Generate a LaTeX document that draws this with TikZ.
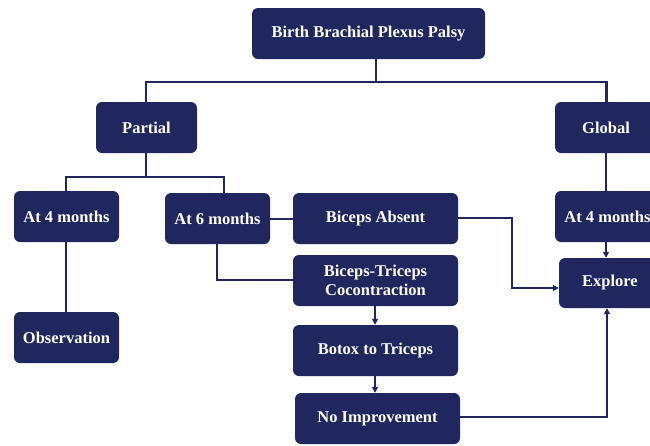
\documentclass[tikz,border=0pt]{standalone}
\usepackage{fontspec}
\setmainfont{Liberation Serif}
\usetikzlibrary{arrows.meta}
\definecolor{navy}{HTML}{1F275E}
\tikzset{
  box/.style={rectangle, rounded corners=6pt, fill=navy, text=white,
    font=\fontsize{16.5}{19}\selectfont\bfseries, align=center, inner sep=0pt,
    minimum height=51pt},
  conn/.style={draw=navy, line width=2.3pt},
  arr/.style={conn, -{Triangle[length=6pt,width=6pt]}}
}
\begin{document}
\begin{tikzpicture}[x=1pt,y=-1pt]
\useasboundingbox (0,0) rectangle (650,445);
\clip (0,0) rectangle (650,445);
\node[box, minimum width=233pt] (top) at (368.5,33.5) {Birth Brachial Plexus Palsy};
\node[box, minimum width=101pt] (partial) at (146.5,127.5) {Partial};
\node[box, minimum width=102pt] (global) at (606,127.5) {Global};
\node[box, minimum width=105pt] (at4L) at (66.5,216.5) {At 4 months};
\node[box, minimum width=105pt] (at6) at (217.5,218.5) {At 6 months};
\node[box, minimum width=165pt] (absent) at (375.5,218.5) {Biceps Absent};
\node[box, minimum width=105pt] (at4R) at (607.5,216.5) {At 4 months};
\node[box, minimum width=165pt] (cocon) at (375.5,280.5) {Biceps-Triceps\\Cocontraction};
\node[box, minimum width=102pt, minimum height=50pt] (explore) at (610,283) {Explore};
\node[box, minimum width=105pt] (obs) at (66.5,337.5) {Observation};
\node[box, minimum width=165pt] (botox) at (375.5,350.5) {Botox to Triceps};
\node[box, minimum width=165pt] (noimp) at (377.5,418.5) {No Improvement};
% top branching
\coordinate (tb) at (376,82);
\draw[conn] (top.south -| tb) -- (tb);
\draw[conn] (partial.north -| 146,0) |- (tb) -| (global.north -| 606.5,0);
% partial branching
\coordinate (pb) at (146,177);
\draw[conn] (partial.south -| pb) -- (pb);
\draw[conn] (at4L.north -| 66,0) |- (pb) -| (at6.north -| 224,0);
\draw[conn] (at4L.south -| 66,0) -- (obs.north -| 66,0);
\draw[conn] (at6.east |- 0,219) -- (absent.west |- 0,219);
\draw[conn] (at6.south -| 217,0) |- (cocon.west |- 0,280);
\draw[arr] (absent.east |- 0,218) -| (512,250) |- (explore.west |- 0,288);
\draw[arr] (cocon.south -| 375,0) -- (botox.north -| 375,0);
\draw[arr] (botox.south -| 375,0) -- (noimp.north -| 375,0);
\draw[arr] (noimp.east |- 0,417) -| (explore.south -| 607,0);
\draw[conn] (global.south -| 606,0) -- (at4R.north -| 606,0);
\draw[arr] (at4R.south -| 606,0) -- (explore.north -| 606,0);
\end{tikzpicture}
\end{document}
